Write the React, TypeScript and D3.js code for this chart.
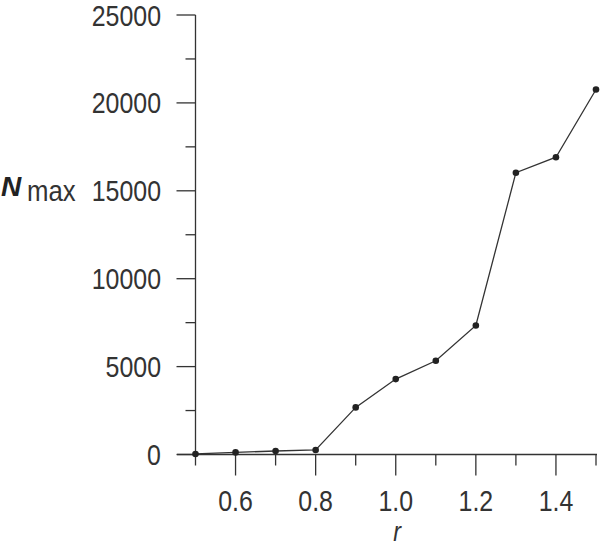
import React from 'react';
import * as d3 from 'd3';

const rValues = [0.5, 0.6, 0.7, 0.8, 0.9, 1.0, 1.1, 1.2, 1.3, 1.4, 1.5];
const nMax = [30, 120, 200, 260, 2680, 4290, 5330, 7340, 16030, 16910, 20760];
const yMajorTicks = [0, 5000, 10000, 15000, 20000, 25000];
const yMinorTicks = [2500, 7500, 12500, 17500, 22500];
const xMajorTicks = [0.6, 0.8, 1.0, 1.2, 1.4];
const xMinorTicks = [0.5, 0.7, 0.9, 1.1, 1.3, 1.5];

const W = 600;
const H = 546;
const ink = '#333';
const font = '"Liberation Sans", Arial, Helvetica, sans-serif';
// the reference type is a bit narrower than Arial, so squeeze it horizontally
const squeeze = 0.86;

const Label: React.FC<{ x: number; y: number; anchor: string; italic?: boolean; size?: number; children: React.ReactNode }> =
  ({ x, y, anchor, italic, size = 29, children }) => (
    <text
      transform={`translate(${x},${y}) scale(${squeeze},1)`}
      textAnchor={anchor}
      fontSize={size}
      fontStyle={italic ? 'italic' : 'normal'}
      fill={ink}
      fontFamily={font}
    >
      {children}
    </text>
  );

const App: React.FC = () => {
  const x = d3.scaleLinear().domain([0.5, 1.5]).range([195.5, 596]);
  const y = d3.scaleLinear().domain([0, 25000]).range([454.5, 15]);

  const line = d3.line<number>()
    .x((d, i) => x(rValues[i]))
    .y(d => y(d));

  const axisY = x(0.5);
  const axisX = y(0);

  return (
    <svg width={W} height={H} style={{ position: 'absolute', left: 0, top: 0, background: '#fff' }}>
      {/* y axis */}
      <line x1={axisY} x2={axisY} y1={y(25000)} y2={axisX} stroke={ink} strokeWidth={1.3} />
      {yMajorTicks.map(t => (
        <g key={'ym' + t}>
          <line x1={axisY - 19} x2={axisY} y1={y(t)} y2={y(t)} stroke={ink} strokeWidth={1.3} />
          <Label x={161} y={y(t) + 10.5} anchor="end">{t}</Label>
        </g>
      ))}
      {yMinorTicks.map(t => (
        <line key={'yn' + t} x1={axisY - 10} x2={axisY} y1={y(t)} y2={y(t)} stroke={ink} strokeWidth={1.3} />
      ))}

      {/* x axis */}
      <line x1={177} x2={597} y1={axisX} y2={axisX} stroke={ink} strokeWidth={1.3} />
      {xMajorTicks.map(t => (
        <g key={'xm' + t}>
          <line x1={x(t)} x2={x(t)} y1={axisX} y2={axisX + 21} stroke={ink} strokeWidth={1.3} />
          <Label x={x(t)} y={510.5} anchor="middle">{t.toFixed(1)}</Label>
        </g>
      ))}
      {xMinorTicks.map(t => (
        <line key={'xn' + t} x1={x(t)} x2={x(t)} y1={axisX} y2={axisX + 11} stroke={ink} strokeWidth={1.3} />
      ))}

      {/* axis titles */}
      <Label x={397} y={541} anchor="middle" italic size={27}>r</Label>
      <text x={1} y={196} fontFamily={font} fill="#222" fontSize={28} fontWeight="bold" fontStyle="italic">N</text>
      <Label x={27} y={201} anchor="start" size={30}>max</Label>

      {/* data */}
      <path d={line(nMax) || ''} fill="none" stroke={ink} strokeWidth={1.3} />
      {nMax.map((v, i) => (
        <circle key={i} cx={x(rValues[i])} cy={y(v)} r={3.3} fill="#222" />
      ))}
    </svg>
  );
};

export default App;
